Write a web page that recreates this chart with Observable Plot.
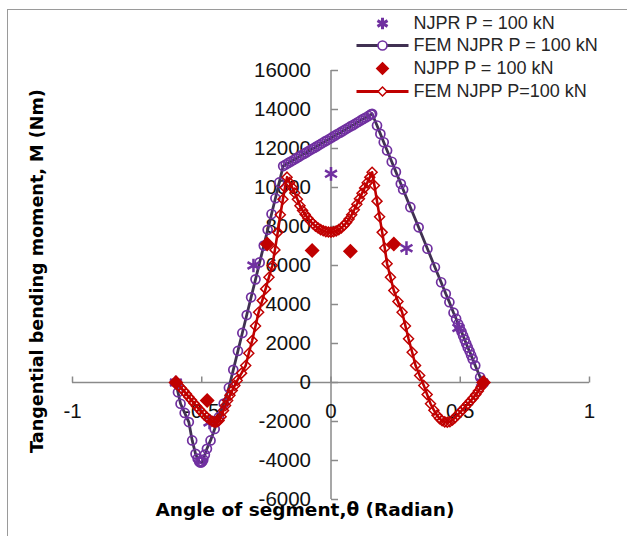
<!DOCTYPE html>
<html><head><meta charset="utf-8">
<script src="https://cdn.jsdelivr.net/npm/d3@7"></script>
<script src="https://cdn.jsdelivr.net/npm/@observablehq/plot@0.6"></script>
<style>
html,body{margin:0;padding:0;background:#fff;overflow:hidden}
#chart svg{display:block}
</style>
</head><body><div id="chart"></div>
<script>
// ---- tick values and labels ----
const xTicks = [-1, -0.5, 0, 0.5, 1];
const xTickLabels = ["-1", "-0.5", "0", "0.5", "1"];
const yTicks = [-6000, -4000, -2000, 0, 2000, 4000, 6000, 8000, 10000, 12000, 14000, 16000];
const yTickLabels = ["-6000", "-4000", "-2000", "0", "2000", "4000", "6000", "8000", "10000", "12000", "14000", "16000"];

// ---- series names ----
const seriesNames = ["NJPR P = 100 kN", "FEM NJPR P = 100 kN", "NJPP P = 100 kN", "FEM NJPP P=100 kN"];
const xTitle = "Angle of segment,\u03b8 (Radian)";
const yTitle = "Tangential bending moment, M (Nm)";

// ---- NJPR P = 100 kN (asterisks) [theta, M] ----
const njpr = [[-0.600, 0], [-0.470, -2050], [-0.300, 6000], [0.000, 10700], [0.292, 6890], [0.493, 2800], [0.585, 0]];

// ---- NJPP P = 100 kN (filled diamonds) ----
const njpp = [[-0.600, 0], [-0.479, -920], [-0.247, 7100], [-0.073, 6770], [0.075, 6730], [0.243, 7100], [0.590, 0]];

// ---- FEM NJPR P = 100 kN (line + circles) ----
const femNjpr = [
  [-0.600,0],[-0.592,-500],[-0.582,-1090],[-0.566,-1560],[-0.550,-2030],[-0.537,-2970],[-0.524,-3660],[-0.516,-3900],
  [-0.510,-4050],[-0.506,-4100],[-0.502,-4100],[-0.498,-4050],[-0.494,-3950],[-0.488,-3700],[-0.480,-3400],[-0.466,-2970],
  [-0.450,-2380],[-0.434,-1780],[-0.415,-1080],[-0.395,-270],[-0.378,650],[-0.360,1620],[-0.343,2540],[-0.326,3460],
  [-0.309,4370],[-0.292,5290],[-0.276,6160],[-0.260,7020],[-0.245,7830],[-0.230,8640],[-0.215,9450],[-0.200,10260],[-0.185,11100],
  [-0.175,11180],[-0.165,11260],[-0.155,11330],[-0.145,11410],[-0.135,11490],[-0.125,11570],[-0.115,11650],[-0.105,11720],
  [-0.095,11800],[-0.085,11880],[-0.075,11960],[-0.065,12030],[-0.055,12110],[-0.045,12190],[-0.035,12270],[-0.025,12350],
  [-0.015,12420],[-0.005,12500],[0.005,12580],[0.015,12660],[0.025,12740],[0.035,12810],[0.045,12890],[0.055,12970],
  [0.065,13050],[0.075,13130],[0.085,13200],[0.095,13280],[0.105,13360],[0.115,13440],[0.125,13520],[0.135,13590],
  [0.145,13670],[0.155,13750],[0.159,13780],
  [0.178,13180],[0.191,12750],[0.204,12320],[0.217,11900],[0.235,11320],[0.251,10800],[0.270,10190],[0.279,9900],
  [0.307,8990],[0.339,7960],[0.373,6860],[0.402,5910],[0.426,5140],[0.444,4550],[0.458,4120],[0.474,3580],[0.484,3270],
  [0.492,3000],[0.498,2800],[0.505,2600],[0.511,2400],[0.517,2200],[0.523,2000],[0.529,1800],[0.536,1600],[0.542,1400],
  [0.548,1200],[0.558,870],[0.577,270],[0.585,0]
];

// ---- FEM NJPP P=100 kN (line + open diamonds) ----
const femNjpp = [
  [-0.600,0],[-0.590,-140],[-0.580,-280],[-0.570,-420],[-0.560,-580],[-0.550,-740],[-0.540,-900],[-0.530,-1060],
  [-0.520,-1220],[-0.510,-1370],[-0.500,-1520],[-0.490,-1660],[-0.480,-1790],[-0.470,-1900],[-0.460,-1990],[-0.453,-2020],
  [-0.447,-2040],[-0.440,-2010],[-0.433,-1950],[-0.425,-1750],[-0.416,-1440],[-0.408,-1180],[-0.400,-920],[-0.391,-660],
  [-0.382,-410],[-0.372,-150],[-0.363,100],[-0.346,480],[-0.330,870],[-0.318,1500],[-0.305,2150],[-0.292,2900],
  [-0.280,3600],[-0.266,4200],[-0.253,4800],[-0.240,5400],[-0.227,6000],[-0.217,6800],[-0.206,7700],[-0.196,8600],
  [-0.186,9400],[-0.178,10000],[-0.170,10530],
  [-0.160,10250],[-0.150,10000],[-0.140,9720],[-0.130,9400],[-0.120,9060],[-0.110,8820],[-0.100,8620],[-0.090,8440],
  [-0.080,8280],[-0.070,8140],[-0.060,8020],[-0.050,7920],[-0.040,7840],[-0.030,7780],[-0.020,7740],[-0.010,7720],
  [0.000,7710],[0.010,7730],[0.020,7770],[0.030,7840],[0.040,7930],[0.050,8050],[0.060,8200],[0.070,8380],
  [0.080,8600],[0.090,8860],[0.100,9140],[0.110,9420],[0.120,9700],[0.130,9980],[0.140,10240],[0.150,10520],[0.159,10780],
  [0.168,10100],[0.178,9300],[0.188,8500],[0.198,7700],[0.208,6900],[0.217,6090],[0.230,5400],[0.243,4720],
  [0.259,4150],[0.275,3600],[0.288,2900],[0.300,2240],[0.314,1550],[0.327,870],[0.343,360],[0.359,-150],
  [0.372,-620],[0.385,-1090],[0.398,-1420],[0.410,-1680],[0.420,-1850],[0.430,-1960],[0.440,-2020],[0.450,-2040],
  [0.460,-2010],[0.470,-1920],[0.480,-1800],[0.490,-1660],[0.500,-1520],[0.510,-1380],[0.520,-1240],[0.530,-1090],
  [0.540,-940],[0.550,-790],[0.560,-620],[0.570,-440],[0.580,-240],[0.590,0]
];

// ---- styles ----
const purple = "#7030A0";
const darkLine = "#403152";
const red = "#C00000";
const axisGray = "#8a8a8a";
const FONT = "'Liberation Sans', Arial, sans-serif";
const TITLE_FONT = "'DejaVu Sans', sans-serif";

// custom symbols (tick marks and legend line samples)
const tickUp = {draw(ctx) { ctx.moveTo(0, 0); ctx.lineTo(0, -6); }};
const tickRight = {draw(ctx) { ctx.moveTo(0, 0); ctx.lineTo(7, 0); }};
const legendLine = {draw(ctx) { ctx.moveTo(-26, 0); ctx.lineTo(26, 0); }};

const px = d => d[0], py = d => d[1];

// legend
const legendRowsDy = [-47, -25, -2, 21];
const legendSymbolDx = 310;
const legendTextDx = 341;
const legendMarks = [];
seriesNames.forEach((name, i) => {
  legendMarks.push(Plot.text([name], {text: d => d, frameAnchor: "top-left", dx: legendTextDx, dy: legendRowsDy[i],
    textAnchor: "start", lineAnchor: "middle", fontSize: 18, fill: "#262626"}));
});
legendMarks.push(
  Plot.dot([0], {frameAnchor: "top-left", dx: legendSymbolDx, dy: legendRowsDy[0], symbol: "asterisk", r: 5.5, stroke: purple, strokeWidth: 3, fill: "none"}),
  Plot.dot([0], {frameAnchor: "top-left", dx: legendSymbolDx, dy: legendRowsDy[1], symbol: legendLine, stroke: darkLine, strokeWidth: 3, fill: "none"}),
  Plot.dot([0], {frameAnchor: "top-left", dx: legendSymbolDx, dy: legendRowsDy[1], symbol: "circle", r: 4.5, stroke: purple, strokeWidth: 1.6, fill: "white"}),
  Plot.dot([0], {frameAnchor: "top-left", dx: legendSymbolDx, dy: legendRowsDy[2], symbol: "diamond2", r: 5.2, fill: red, stroke: red}),
  Plot.dot([0], {frameAnchor: "top-left", dx: legendSymbolDx, dy: legendRowsDy[3], symbol: legendLine, stroke: red, strokeWidth: 3, fill: "none"}),
  Plot.dot([0], {frameAnchor: "top-left", dx: legendSymbolDx, dy: legendRowsDy[3], symbol: "diamond2", r: 4, stroke: red, strokeWidth: 1.5, fill: "white"})
);

const chart = Plot.plot({
  width: 627,
  height: 536,
  marginLeft: 72,
  marginRight: 38,
  marginTop: 70,
  marginBottom: 37,
  style: {fontFamily: FONT, background: "white", color: "#111"},
  x: {domain: [-1, 1], axis: null},
  y: {domain: [-6000, 16000], axis: null},
  marks: [
    // outer chart border
    Plot.frame({stroke: "#9a9a9a", strokeWidth: 1, insetLeft: -65, insetTop: -61, insetRight: -80, insetBottom: -80}),
    // axes through zero
    Plot.ruleY([0], {stroke: axisGray, strokeWidth: 1.5}),
    Plot.ruleX([0], {stroke: axisGray, strokeWidth: 1.5}),
    Plot.dot(xTicks, {x: d => d, y: 0, symbol: tickUp, stroke: axisGray, strokeWidth: 1.5, fill: "none"}),
    Plot.dot(yTicks, {x: 0, y: d => d, symbol: tickRight, stroke: axisGray, strokeWidth: 1.5, fill: "none"}),
    Plot.text(xTicks, {x: d => d, y: 0, dy: 29, text: (d, i) => xTickLabels[i], fontSize: 20.5, fill: "#111"}),
    Plot.text(yTicks, {x: 0, y: d => d, dx: -20, text: (d, i) => yTickLabels[i], textAnchor: "end", fontSize: 20.5, fill: "#111"}),
    // FEM NJPR
    Plot.line(femNjpr, {x: px, y: py, stroke: darkLine, strokeWidth: 2.8}),
    Plot.dot(femNjpr, {x: px, y: py, symbol: "circle", r: 4.5, stroke: purple, strokeWidth: 1.7, fill: "none"}),
    // NJPR
    Plot.dot(njpr, {x: px, y: py, symbol: "asterisk", r: 6.5, stroke: purple, strokeWidth: 2.5, fill: "none"}),
    // FEM NJPP
    Plot.line(femNjpp, {x: px, y: py, stroke: red, strokeWidth: 2.6}),
    Plot.dot(femNjpp, {x: px, y: py, symbol: "diamond2", r: 4.5, stroke: red, strokeWidth: 1.5, fill: "none"}),
    // NJPP
    Plot.dot(njpp, {x: px, y: py, symbol: "diamond2", r: 5.8, fill: red, stroke: red}),
    // axis titles
    Plot.text([yTitle], {text: d => d, frameAnchor: "left", textAnchor: "middle", lineAnchor: "middle", rotate: -90, dx: -35, dy: -14,
      fontFamily: TITLE_FONT, fontWeight: "bold", fontSize: 17.6, fill: "#000"}),
    Plot.text([xTitle], {text: d => d, frameAnchor: "bottom", textAnchor: "middle", lineAnchor: "middle", dx: -26, dy: 11,
      fontFamily: TITLE_FONT, fontWeight: "bold", fontSize: 18.5, fill: "#000"}),
    ...legendMarks
  ]
});
document.getElementById("chart").appendChild(chart);
</script>
</body></html>
